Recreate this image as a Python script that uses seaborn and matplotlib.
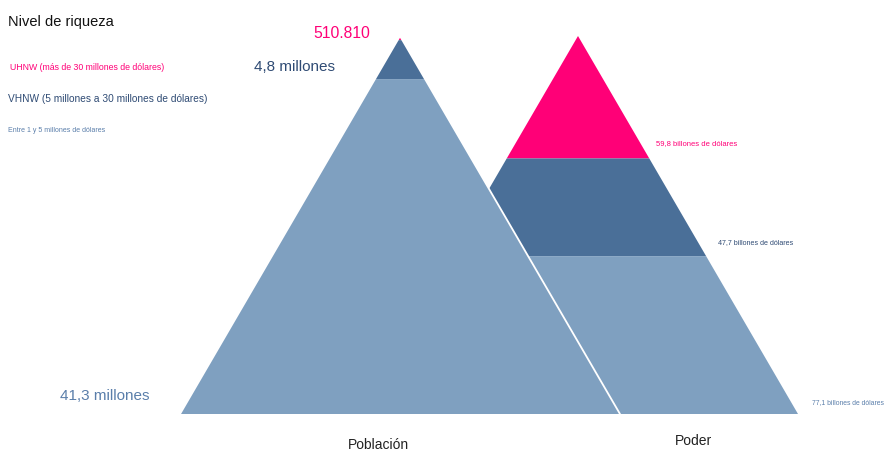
import numpy as np
import matplotlib.pyplot as plt
import seaborn as sns

# datos (de arriba a abajo: UHNW, VHNW, entre 1 y 5 millones)
niveles = ["UHNW", "VHNW", "Entre 1 y 5"]
poblacion = [510810, 4.8e6, 41.3e6]
poder = [59.8, 47.7, 77.1]
etiquetas_poblacion = ["510.810", "4,8 millones", "41,3 millones"]
etiquetas_poder = ["59,8 billones de dólares", "47,7 billones de dólares", "77,1 billones de dólares"]
leyenda = ["UHNW (más de 30 millones de dólares)",
           "VHNW (5 millones a 30 millones de dólares)",
           "Entre 1 y 5 millones de dólares"]
colores = ["#ff0077", "#4a6f98", "#7fa0c0"]
colores_texto = ["#ff0077", "#2f4b74", "#5a7eaa"]

sns.set_theme(style="white")
plt.rcParams['font.family'] = ['Liberation Sans', 'DejaVu Sans']

fig = plt.figure(figsize=(8.84, 4.52), dpi=100)
ax = fig.add_axes([0, 0, 1, 1])
ax.set_xlim(0, 884)
ax.set_ylim(452, 0)
ax.axis('off')

# geometria de las piramides (pixeles)
apex_y, base_y, half_w = 37, 415, 220
altura = base_y - apex_y


def piramide(valores, cx, zorder, borde=False):
    frac = np.concatenate([[0], np.cumsum(valores) / np.sum(valores)])
    for i, col in enumerate(colores):
        da, db = frac[i], frac[i + 1]
        ya, yb = apex_y + da * altura, apex_y + db * altura
        xs = [cx - half_w * da, cx + half_w * da, cx + half_w * db, cx - half_w * db]
        ys = [ya, ya, yb, yb]
        ax.fill(xs, ys, color=col, lw=0, zorder=zorder)
    if borde:
        ax.plot([cx - half_w, cx, cx + half_w], [base_y, apex_y, base_y],
                color="white", lw=1.3, zorder=zorder + 0.5, solid_joinstyle='miter')
    return frac


piramide(poder, 578, 1)
piramide(poblacion, 400, 2, borde=True)

# titulo y leyenda
ax.text(8, 22, "Nivel de riqueza", fontsize=10.5, color="#111111", va="center")
ax.text(10, 67, leyenda[0], fontsize=6.3, color=colores_texto[0], va="center")
ax.text(8, 99, leyenda[1], fontsize=7.3, color=colores_texto[1], va="center")
ax.text(8, 131, leyenda[2], fontsize=5.0, color=colores_texto[2], va="center")

# etiquetas de poblacion
ax.text(370, 34, etiquetas_poblacion[0], fontsize=11.3, color=colores_texto[0], ha="right", va="center")
ax.text(335, 67, etiquetas_poblacion[1], fontsize=11, color=colores_texto[1], ha="right", va="center")
ax.text(150, 396, etiquetas_poblacion[2], fontsize=11, color=colores_texto[2], ha="right", va="center")

# etiquetas de poder
ax.text(656, 144, etiquetas_poder[0], fontsize=5.5, color=colores_texto[0], va="center")
ax.text(718, 243, etiquetas_poder[1], fontsize=5.1, color=colores_texto[1], va="center")
ax.text(812, 403, etiquetas_poder[2], fontsize=4.9, color=colores_texto[2], va="center")

ax.text(378, 445, "Población", fontsize=10, color="#222222", ha="center", va="center")
ax.text(694, 441, "Poder", fontsize=10, color="#222222", ha="center", va="center")

fig.savefig("out.png", dpi=100)
